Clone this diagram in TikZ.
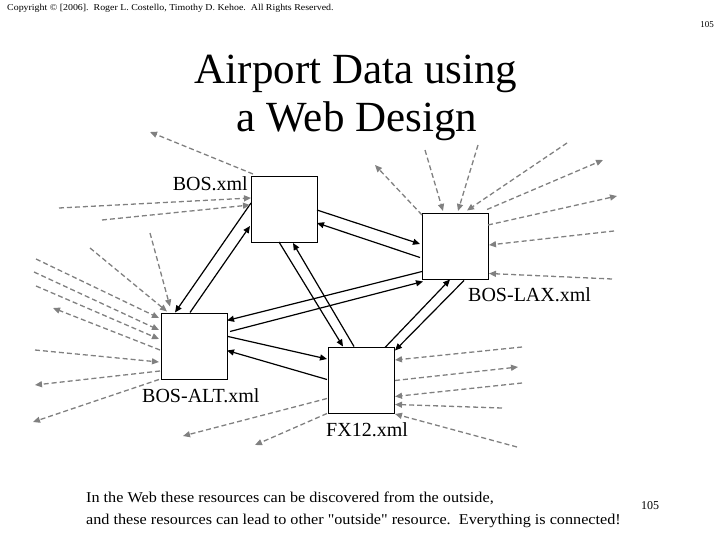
\documentclass[tikz,border=0pt]{standalone}
\usepackage{fontspec}
\setmainfont{Liberation Serif}
\usetikzlibrary{arrows.meta}
\definecolor{dgray}{RGB}{128,128,128}
\tikzset{
  box/.style={draw, line width=0.9pt, minimum width=66pt, minimum height=66pt, inner sep=0pt, fill=white},
  blk/.style={draw=black, line width=1.2pt, -{Triangle[length=7pt,width=6pt]}},
  gry/.style={draw=dgray, line width=1.3pt, dash pattern=on 5pt off 3pt, -{Triangle[length=7pt,width=6pt]}, color=dgray},
  lbl/.style={font=\fontsize{20}{22}\selectfont, inner sep=0pt},
  foottxt/.style={inner sep=0pt, anchor=base west, font=\fontsize{15}{18}\selectfont\addfontfeatures{Ligatures=TeXOff}},
}
\begin{document}
\begin{tikzpicture}[x=1pt,y=-1pt]
\useasboundingbox (0,0) rectangle (720,540);
% boxes
\node[box] (BOS) at (284,209) {};
\node[box] (LAX) at (455,246.5) {};
\node[box] (ALT) at (194,346.5) {};
\node[box] (FX) at (361,380.5) {};
% titles and labels
\node[inner sep=0pt, anchor=base west, font=\fontsize{9}{10}\selectfont] (copy) at (7,11) {\scalebox{1.1}[1]{Copyright © [2006].\ \ Roger L. Costello, Timothy D. Kehoe.\ \ All Rights Reserved.}};
\node[inner sep=0pt, anchor=base east, font=\fontsize{9}{10}\selectfont] (pg1) at (714,28) {105};
\node[inner sep=0pt, anchor=base, font=\fontsize{43}{47}\selectfont] (t1) at (356,83.5) {Airport Data using};
\node[inner sep=0pt, anchor=base, font=\fontsize{43}{47}\selectfont] (t2) at (357,131.5) {a Web Design};
\node[lbl, anchor=base east] (lBOS) at (248,190.7) {BOS.xml};
\node[lbl, anchor=base west] (lLAX) at (468,301.7) {BOS-LAX.xml};
\node[lbl, anchor=base west] (lALT) at (142,402) {BOS-ALT.xml};
\node[lbl, anchor=base west] (lFX) at (326,436) {FX12.xml};
\node[foottxt] (foot1) at (86,502) {\scalebox{1.08}[1]{In the Web these resources can be discovered from the outside,}};
\node[foottxt] (foot2) at (86,524) {\scalebox{1.08}[1]{and these resources can lead to other "outside" resource.\ \ Everything is connected!}};
\node[inner sep=0pt, anchor=base west, font=\fontsize{12}{14}\selectfont] (pg2) at (641,509) {105};
% black arrows between boxes
\draw[blk] ([shift={(33,1)}]BOS.center) -- ([shift={(-35,-2.5)}]LAX.center);
\draw[blk] ([shift={(-35,11)}]LAX.center) -- ([shift={(33,14)}]BOS.center);
\draw[blk] ([shift={(-33,-6)}]BOS.center) -- ([shift={(-19,-34)}]ALT.center);
\draw[blk] ([shift={(-4,-34)}]ALT.center) -- ([shift={(-34,17)}]BOS.center);
\draw[blk] ([shift={(-5,33)}]BOS.center) -- ([shift={(-18,-34)}]FX.center);
\draw[blk] ([shift={(-7,-34)}]FX.center) -- ([shift={(9,34)}]BOS.center);
\draw[blk] ([shift={(-33,25)}]LAX.center) -- ([shift={(33,-26)}]ALT.center);
\draw[blk] ([shift={(36,-15)}]ALT.center) -- ([shift={(-32,35)}]LAX.center);
\draw[blk] ([shift={(24,-33)}]FX.center) -- ([shift={(-5,33)}]LAX.center);
\draw[blk] ([shift={(9,34)}]LAX.center) -- ([shift={(34,-30)}]FX.center);
\draw[blk] ([shift={(34,-10)}]ALT.center) -- ([shift={(-34,-21.5)}]FX.center);
\draw[blk] ([shift={(-34,-1)}]FX.center) -- ([shift={(33,4)}]ALT.center);
% outside ends
\coordinate (b1) at (150,132);
\coordinate (b2) at (59,208);
\coordinate (b3) at (102,220);
\coordinate (a1) at (150,233);
\coordinate (a2) at (90,248);
\coordinate (a3) at (36,259);
\coordinate (a4) at (34,272);
\coordinate (a5) at (36,286);
\coordinate (a6) at (53,308);
\coordinate (a7) at (35,350);
\coordinate (a8) at (35,385);
\coordinate (a9) at (33,422);
\coordinate (f1) at (183,436);
\coordinate (f2) at (255,445);
\coordinate (f3) at (522,347);
\coordinate (f4) at (518,367);
\coordinate (f5) at (522,383);
\coordinate (f6) at (502,408);
\coordinate (f7) at (517,447);
\coordinate (l1) at (375,165);
\coordinate (l2) at (425,150);
\coordinate (l3) at (478,145);
\coordinate (l4) at (567,143);
\coordinate (l5) at (603,160);
\coordinate (l6) at (617,196);
\coordinate (l7) at (614,231);
\coordinate (l8) at (612,279);
% grey dashed arrows
\draw[gry] ([shift={(-31,-35)}]BOS.center) -- (b1);
\draw[gry] (b2) -- ([shift={(-33,-11)}]BOS.center);
\draw[gry] (b3) -- ([shift={(-34,-4)}]BOS.center);
\draw[gry] (a1) -- ([shift={(-24,-40)}]ALT.center);
\draw[gry] (a2) -- ([shift={(-27,-35)}]ALT.center);
\draw[gry] (a3) -- ([shift={(-35,-28.5)}]ALT.center);
\draw[gry] (a4) -- ([shift={(-35,-16.5)}]ALT.center);
\draw[gry] (a5) -- ([shift={(-35,-7.5)}]ALT.center);
\draw[gry] ([shift={(-34,3.5)}]ALT.center) -- (a6);
\draw[gry] (a7) -- ([shift={(-35,15.5)}]ALT.center);
\draw[gry] ([shift={(-34,24.5)}]ALT.center) -- (a8);
\draw[gry] ([shift={(-35,33)}]ALT.center) -- (a9);
\draw[gry] ([shift={(-34,18)}]FX.center) -- (f1);
\draw[gry] ([shift={(-34,33)}]FX.center) -- (f2);
\draw[gry] (f3) -- ([shift={(34,-20.5)}]FX.center);
\draw[gry] ([shift={(34,0)}]FX.center) -- (f4);
\draw[gry] (f5) -- ([shift={(34,16)}]FX.center);
\draw[gry] (f6) -- ([shift={(34,24)}]FX.center);
\draw[gry] (f7) -- ([shift={(34,33.5)}]FX.center);
\draw[gry] ([shift={(-33,-31.5)}]LAX.center) -- (l1);
\draw[gry] (l2) -- ([shift={(-12,-35.5)}]LAX.center);
\draw[gry] (l3) -- ([shift={(3,-35.5)}]LAX.center);
\draw[gry] (l4) -- ([shift={(12,-36)}]LAX.center);
\draw[gry] ([shift={(32,-37)}]LAX.center) -- (l5);
\draw[gry] ([shift={(33,-21.5)}]LAX.center) -- (l6);
\draw[gry] (l7) -- ([shift={(34,-1.5)}]LAX.center);
\draw[gry] (l8) -- ([shift={(34,27)}]LAX.center);
\end{tikzpicture}
\end{document}
